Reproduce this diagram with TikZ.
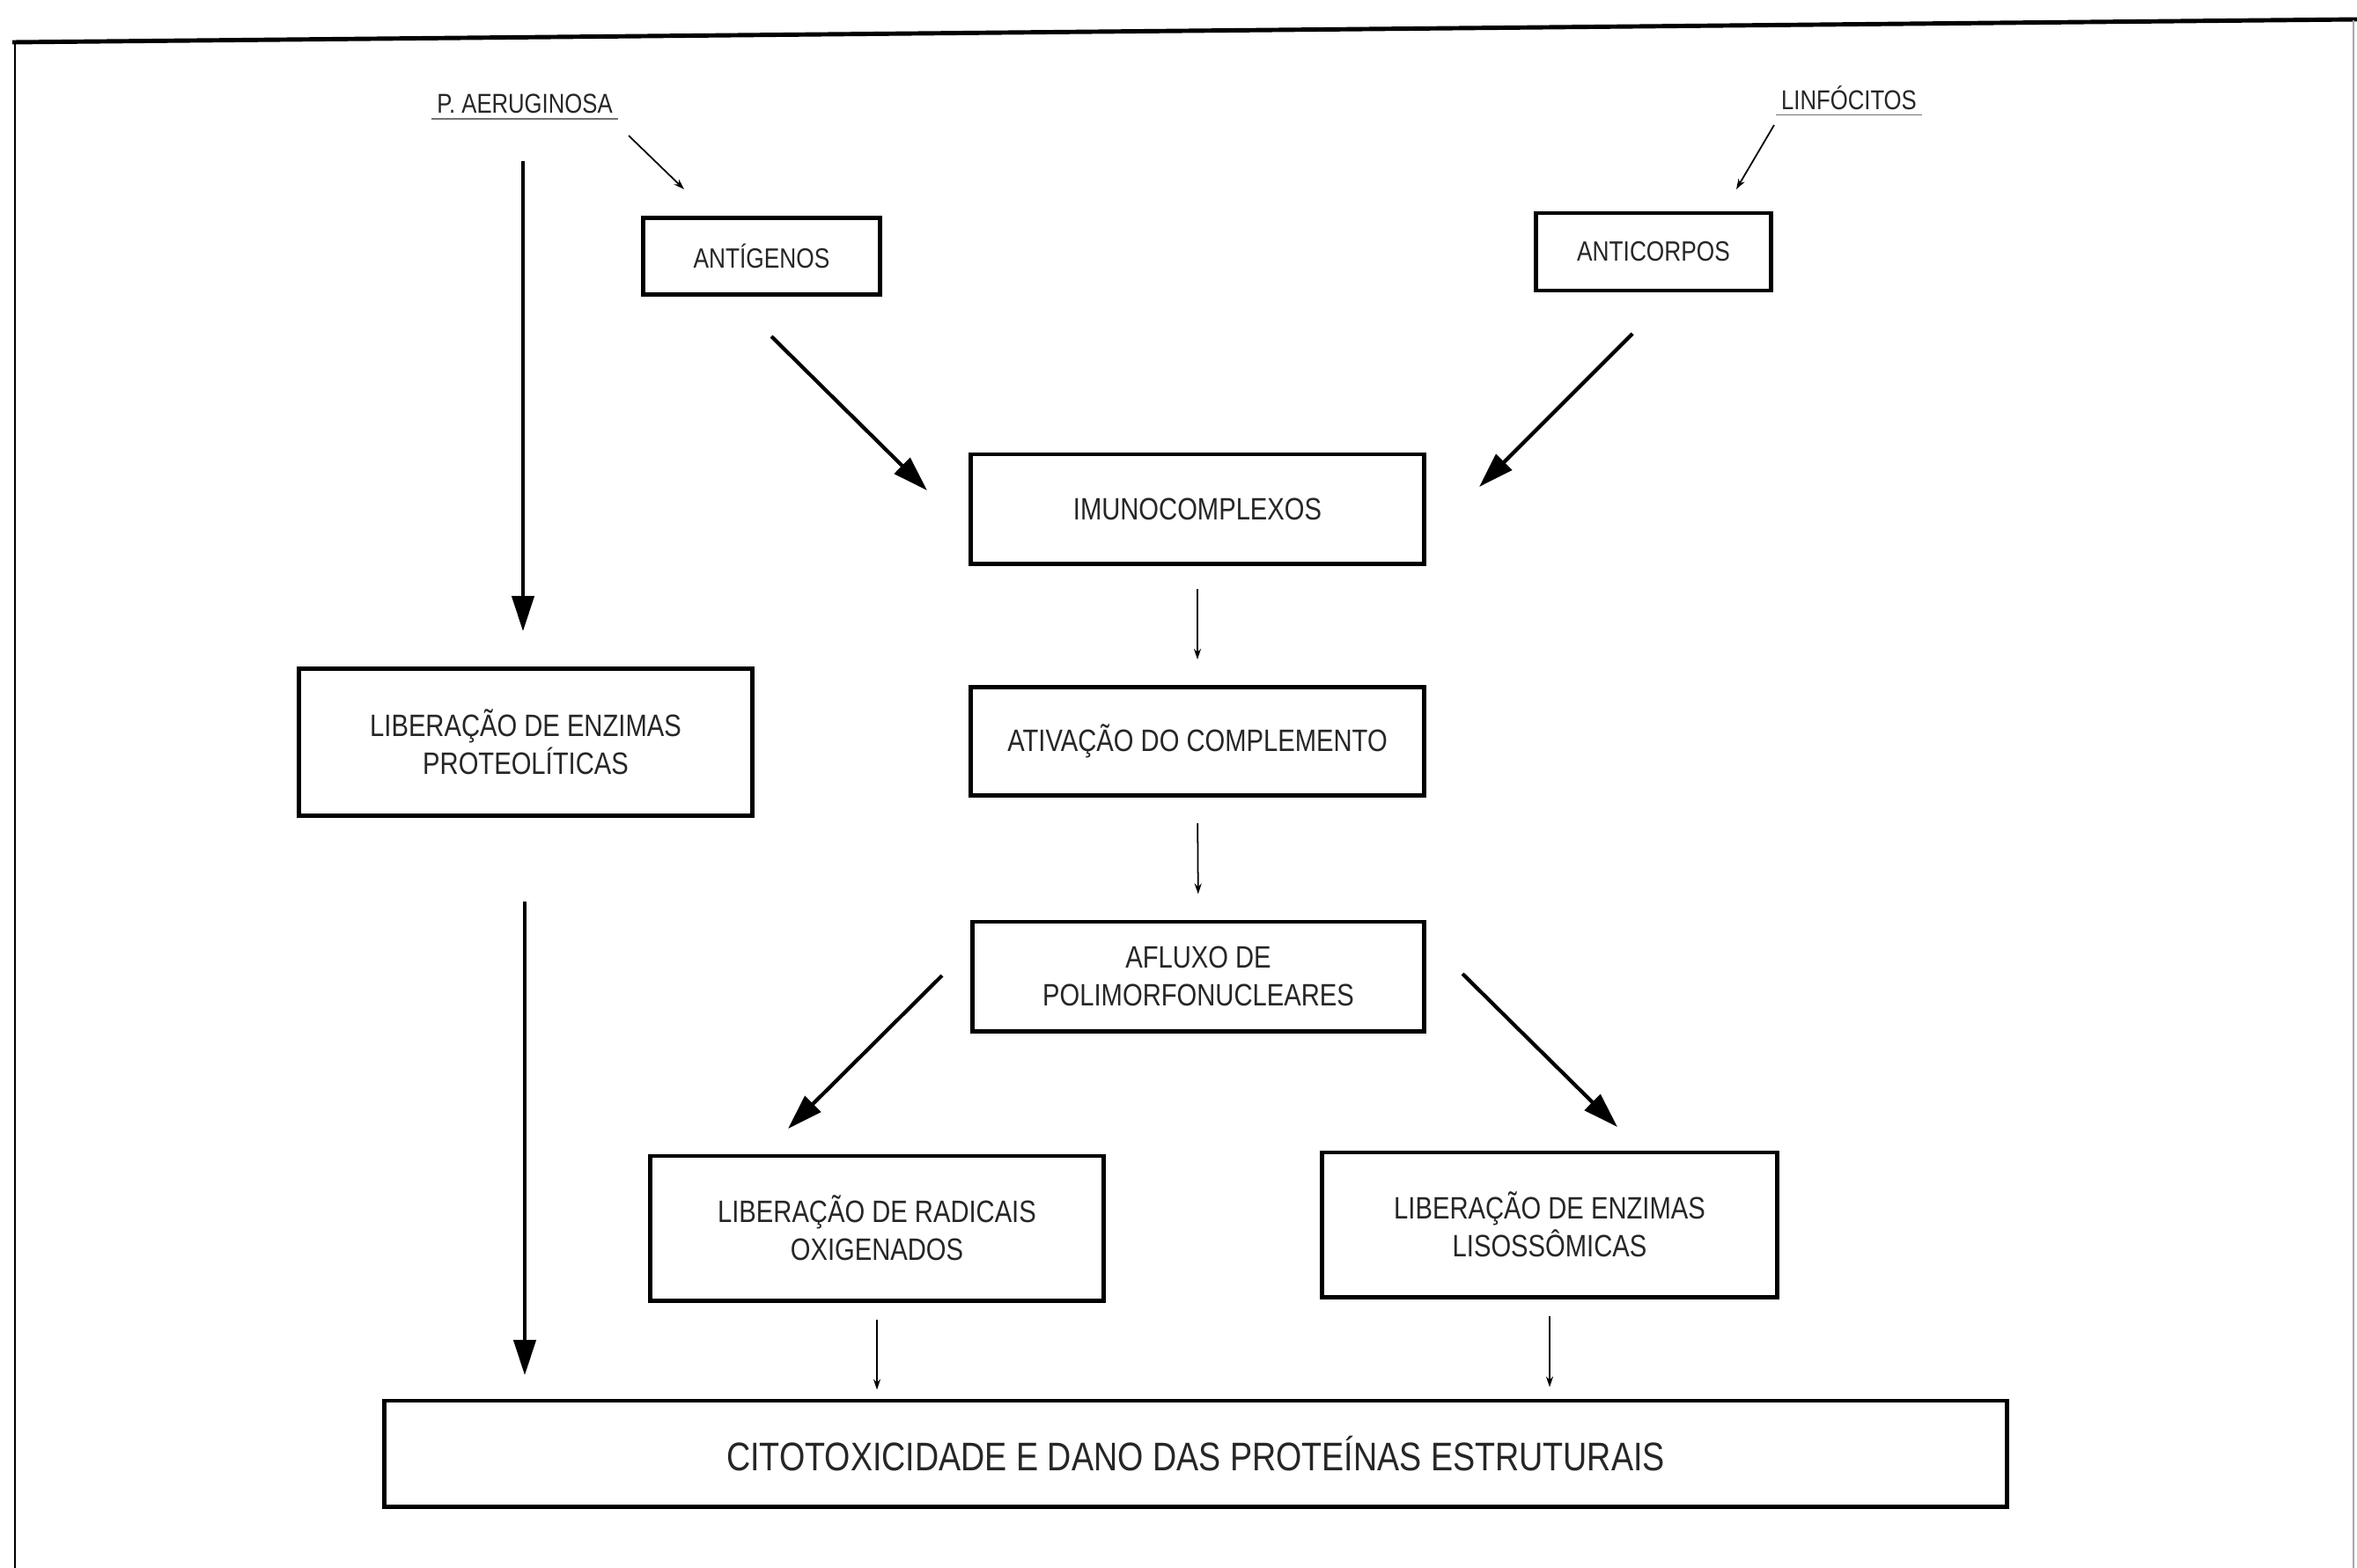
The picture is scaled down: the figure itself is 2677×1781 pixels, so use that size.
\documentclass[tikz,border=0pt]{standalone}
\usepackage{fontspec}
\setmainfont{Liberation Sans}[FakeStretch=0.83]
\usetikzlibrary{arrows.meta}
\begin{document}
\begin{tikzpicture}[x=0.01cm,y=-0.01cm,
  txt/.style={text=black!85},
  box/.style={draw, line width=1.4pt, align=center, inner sep=0pt, txt,
              font=\fontsize{10}{12.2}\selectfont},
  smallbox/.style={box, font=\fontsize{9}{11}\selectfont},
  lbl/.style={inner sep=1.5pt, txt, font=\fontsize{8.8}{10}\selectfont},
  bigarr/.style={line width=1.2pt, -{Triangle[length=0.40cm,width=0.25cm]}},
  thinarr/.style={line width=0.5pt, -{Stealth[length=0.12cm,width=0.08cm]}},
  uline/.style={line width=0.5pt, black!55}]
\useasboundingbox (0,0) rectangle (2677,1781);
\fill[white] (0,0) rectangle (2677,1781);
% frame
\draw[line width=1.4pt] (14,48) -- (2677,22);
\draw[line width=0.7pt] (17,47) -- (17,1781);
\draw[line width=0.5pt, black!35] (2673,23) -- (2673,1781);
% labels
\node[lbl] (pa) at (596,118) {P. AERUGINOSA};
\draw[uline] (pa.south west) -- (pa.south east);
\node[lbl] (lf) at (2100,111) {LINFÓCITOS};
\draw[uline] (lf.south west) -- (lf.south east);
% boxes
\node[smallbox, minimum width=2.68cm, minimum height=0.87cm] (ant) at (865,291) {ANTÍGENOS};
\node[smallbox, minimum width=2.66cm, minimum height=0.88cm] (acp) at (1878,286) {ANTICORPOS};
\node[box, minimum width=5.14cm, minimum height=1.24cm] (imu) at (1360,578) {IMUNOCOMPLEXOS};
\node[box, minimum width=5.14cm, minimum height=1.23cm] (ati) at (1360,842) {ATIVAÇÃO DO COMPLEMENTO};
\node[box, minimum width=5.12cm, minimum height=1.24cm] (afl) at (1361,1109) {AFLUXO DE\\POLIMORFONUCLEARES};
\node[box, minimum width=5.14cm, minimum height=1.67cm] (lpr) at (597,843) {LIBERAÇÃO DE ENZIMAS\\PROTEOLÍTICAS};
\node[box, minimum width=5.14cm, minimum height=1.64cm] (rad) at (996,1395) {LIBERAÇÃO DE RADICAIS\\OXIGENADOS};
\node[box, minimum width=5.16cm, minimum height=1.64cm] (lis) at (1760,1391) {LIBERAÇÃO DE ENZIMAS\\LISOSSÔMICAS};
\node[box, minimum width=18.42cm, minimum height=1.20cm, font=\fontsize{12.9}{15}\selectfont] (cit) at (1358,1651) {CITOTOXICIDADE E DANO DAS PROTEÍNAS ESTRUTURAIS};
% connector end points
\coordinate (pa1) at (714,154);   \coordinate (pa2) at (777,215);
\coordinate (lf1) at (2015,142);  \coordinate (lf2) at (1972,215);
\coordinate (l1) at (594,183);    \coordinate (l2) at (594,717);
\coordinate (l3) at (596,1024);   \coordinate (l4) at (596,1562);
\coordinate (a1) at (876,382);    \coordinate (a2) at (1053,557);
\coordinate (b1) at (1854,379);   \coordinate (b2) at (1680,553);
\coordinate (c1) at (1070,1108);  \coordinate (c2) at (895,1282);
\coordinate (d1) at (1661,1106);  \coordinate (d2) at (1837,1280);
% connectors
\draw[thinarr] (pa1) -- (pa2);
\draw[thinarr] (lf1) -- (lf2);
\draw[bigarr] (l1) -- (l2);
\draw[bigarr] (l3) -- (l4);
\draw[bigarr] (a1) -- (a2);
\draw[bigarr] (b1) -- (b2);
\draw[bigarr] (c1) -- (c2);
\draw[bigarr] (d1) -- (d2);
\draw[thinarr, shorten <=0.26cm, shorten >=0.29cm] (imu.south) -- (ati.north);
\draw[thinarr, shorten <=0.29cm, shorten >=0.29cm] (ati.south) -- (afl.north);
\draw[thinarr, shorten <=0.19cm, shorten >=0.10cm] (rad.south) -- (rad.south |- cit.north);
\draw[thinarr, shorten <=0.19cm, shorten >=0.13cm] (lis.south) -- (lis.south |- cit.north);
\end{tikzpicture}
\end{document}
